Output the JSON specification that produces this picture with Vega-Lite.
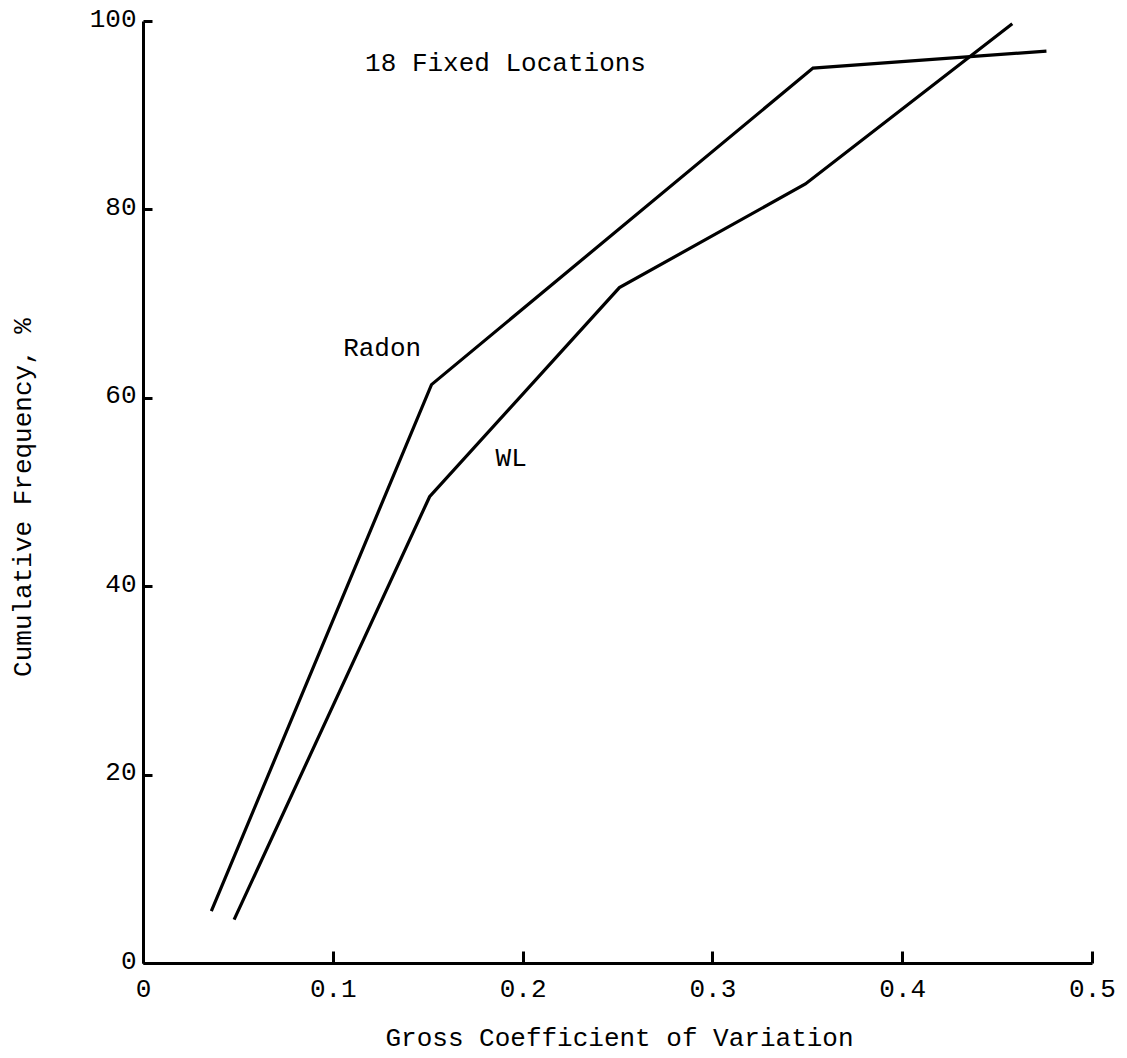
{
  "$schema": "https://vega.github.io/schema/vega-lite/v6.json",
  "width": 949,
  "height": 942,
  "autosize": {"type": "none"},
  "padding": {"left": 143, "top": 21, "right": 35, "bottom": 95},
  "background": "white",
  "config": {
    "view": {"stroke": null},
    "font": "Liberation Mono",
    "axis": {
      "domainColor": "black",
      "domainWidth": 3,
      "tickColor": "black",
      "tickWidth": 3,
      "grid": false,
      "labelFont": "Liberation Mono",
      "labelFontSize": 26,
      "labelColor": "black",
      "titleFont": "Liberation Mono",
      "titleFontSize": 26,
      "titleFontWeight": "normal",
      "titleColor": "black"
    }
  },
  "datasets": {
    "curves": [
      {"series": "Radon", "cv": 0.036, "freq": 5.5},
      {"series": "Radon", "cv": 0.152, "freq": 61.4},
      {"series": "Radon", "cv": 0.353, "freq": 95.0},
      {"series": "Radon", "cv": 0.476, "freq": 96.8},
      {"series": "WL", "cv": 0.048, "freq": 4.6},
      {"series": "WL", "cv": 0.151, "freq": 49.5},
      {"series": "WL", "cv": 0.251, "freq": 71.7},
      {"series": "WL", "cv": 0.349, "freq": 82.7},
      {"series": "WL", "cv": 0.458, "freq": 99.7}
    ],
    "notes": [
      {"text": "18 Fixed Locations", "cv": 0.191, "freq": 95.5},
      {"text": "Radon", "cv": 0.126, "freq": 65.3},
      {"text": "WL", "cv": 0.194, "freq": 53.6}
    ]
  },
  "layer": [
    {
      "data": {"name": "curves"},
      "mark": {"type": "line", "color": "black", "strokeWidth": 3.2},
      "encoding": {
        "x": {
          "field": "cv", "type": "quantitative",
          "scale": {"domain": [0, 0.5], "nice": false, "zero": false},
          "axis": {
            "title": "Gross Coefficient of Variation",
            "values": [0, 0.1, 0.2, 0.3, 0.4, 0.5],
            "labelExpr": "datum.value == 0 ? '0' : format(datum.value, '.1f')",
            "tickSize": -12,
            "labelPadding": 24,
            "labelFlush": false,
            "titleX": 476,
            "titleY": 74,
            "titleBaseline": "middle",
            "titleAlign": "center",
            "titlePadding": 0
          }
        },
        "y": {
          "field": "freq", "type": "quantitative",
          "scale": {"domain": [0, 100], "nice": false},
          "axis": {
            "title": "Cumulative Frequency, %",
            "values": [0, 20, 40, 60, 80, 100],
            "tickSize": -9,
            "labelPadding": 16,
            "labelOffset": -3,
            "labelFlush": false,
            "titleX": -121,
            "titleY": 476,
            "titleAngle": -90,
            "titleAlign": "center",
            "titleBaseline": "middle"
          }
        },
        "detail": {"field": "series", "type": "nominal"}
      }
    },
    {
      "data": {"name": "notes"},
      "mark": {"type": "text", "font": "Liberation Mono", "fontSize": 26, "color": "black", "align": "center", "baseline": "middle"},
      "encoding": {
        "x": {"field": "cv", "type": "quantitative"},
        "y": {"field": "freq", "type": "quantitative"},
        "text": {"field": "text", "type": "nominal"}
      }
    }
  ]
}
